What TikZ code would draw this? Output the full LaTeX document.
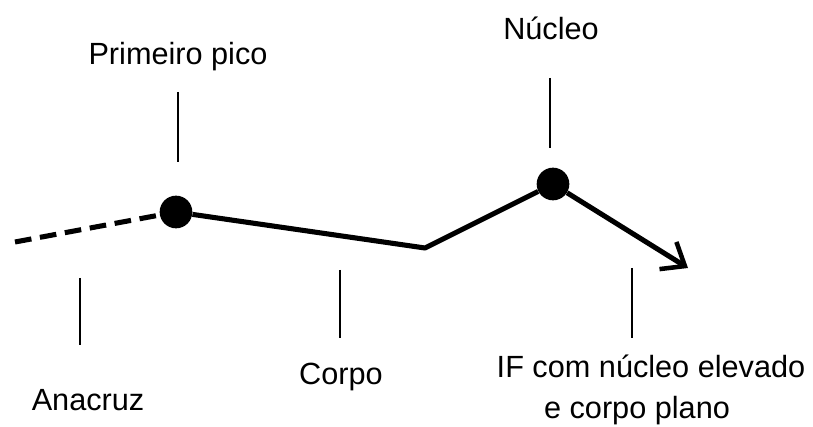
\documentclass[tikz,border=0pt]{standalone}
\usepackage{fontspec}
\setmainfont{Liberation Sans}
\usetikzlibrary{positioning, arrows.meta}

\begin{document}
\begin{tikzpicture}[
   x=0.75pt, y=-0.75pt,
   dot/.style={circle, fill=black, inner sep=0pt, minimum size=24.5pt},
   lab/.style={font=\fontsize{23}{31}\selectfont, align=center},
   contour/.style={line width=3.8pt},
   tick/.style={line width=1pt},
   arr/.style={-{Straight Barb[length=15pt, width=24pt, line width=3.4pt]}},
  ]
  \useasboundingbox (0,0) rectangle (813,427);

  % contorno
  \coordinate (ini) at (15,242);
  \node[dot] (pico) at (176,212) {};
  \coordinate (vale) at (425,248);
  \node[dot] (nuc) at (553,184) {};
  \coordinate (fim) at (688,268);

  \draw[contour, dash pattern=on 12.5pt off 6.5pt] (ini) -- (pico);
  \draw[contour, line join=round] (pico) -- (vale) -- (nuc);
  \draw[contour, arr] (nuc) -- (fim);

  % rotulos
  \node[lab] (lpico) at (178,57) {Primeiro pico};
  \node[lab] (lnuc) at (551,28) {Núcleo};
  \node[lab] (lana) at (88,400) {Anacruz};
  \node[lab] (lcorpo) at (341,377) {Corpo};
  \node[lab] (lif) at (651,390) {IF com núcleo elevado\\\hspace*{-21pt}e corpo plano};

  % tracos
  \draw[tick] (178,92) coordinate (tp1) -- (178,162) coordinate (tp2);
  \draw[tick] (550,78) coordinate (tn1) -- (550,148) coordinate (tn2);
  \draw[tick] (80,278) coordinate (ta1) -- (80,345) coordinate (ta2);
  \draw[tick] (340,270) coordinate (tc1) -- (340,338) coordinate (tc2);
  \draw[tick] (632,268) coordinate (ti1) -- (632,338) coordinate (ti2);
 \end{tikzpicture}
\end{document}
